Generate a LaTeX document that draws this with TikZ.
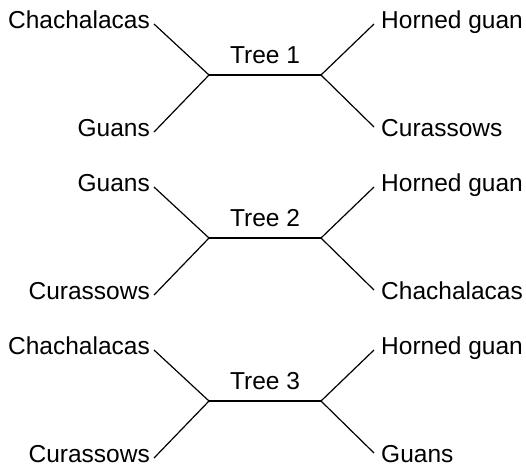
\documentclass[tikz,border=0pt]{standalone}
\usepackage{fontspec}
\setmainfont{Liberation Sans}
\begin{document}
\begin{tikzpicture}[x=1pt,y=-1pt,
  lab/.style={inner sep=0pt, font=\fontsize{24.5}{29}\selectfont},
  edge/.style={line width=1.2pt}]
\useasboundingbox (0,0) rectangle (526,467);
\foreach \i/\tl/\bl/\tr/\br in {1/Chachalacas/Guans/Horned guan/Curassows,
  2/Guans/Curassows/Horned guan/Chachalacas,
  3/Chachalacas/Curassows/Horned guan/Guans} {
  \begin{scope}[yshift={-(\i-1)*163pt}]
    \node[lab, anchor=base east] (tl\i) at (150,28) {\tl};
    \node[lab, anchor=base east] (bl\i) at (150,136) {\bl};
    \node[lab, anchor=base west] (tr\i) at (381,28) {\tr};
    \node[lab, anchor=base west] (br\i) at (381,136) {\br};
    \node[lab, anchor=base] (t\i) at (265,63) {Tree \i};
    \coordinate (jl\i) at (209,75);
    \coordinate (jr\i) at (321,75);
    \draw[edge] ([shift={(4,-4)}]tl\i.base east) -- (jl\i) -- ([shift={(4,-4)}]bl\i.base east);
    \draw[edge] (jl\i) -- (jr\i);
    \draw[edge] ([shift={(-7,-4)}]tr\i.base west) -- (jr\i) -- ([shift={(-7,-9)}]br\i.base west);
  \end{scope}
}
\end{tikzpicture}
\end{document}
